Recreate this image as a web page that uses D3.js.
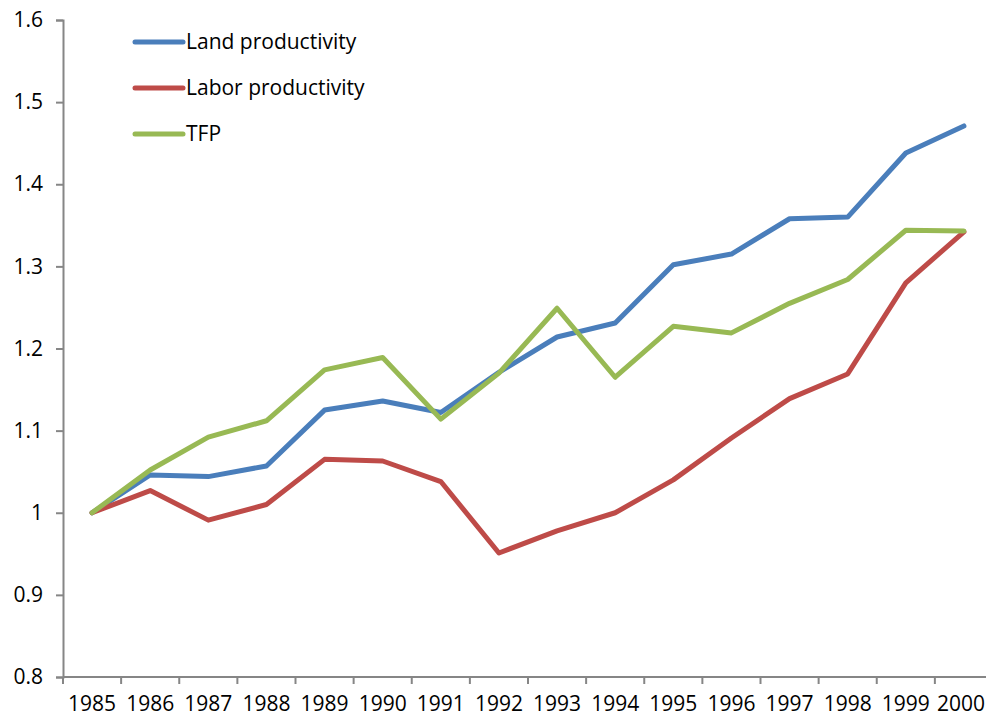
<!DOCTYPE html>
<html>
<head>
<meta charset="utf-8">
<script src="https://cdn.jsdelivr.net/npm/d3@7"></script>
<style>
  body { margin: 0; background: #fff; }
  svg text { font-family: "Open Sans", "Liberation Sans", sans-serif; fill: #000; }
</style>
</head>
<body>
<div id="chart"></div>
<script>
// data
const years = ['1985','1986','1987','1988','1989','1990','1991','1992','1993','1994','1995','1996','1997','1998','1999','2000'];
const landProductivity = [1.0, 1.046, 1.044, 1.057, 1.125, 1.136, 1.122, 1.171, 1.214, 1.231, 1.302, 1.315, 1.358, 1.360, 1.438, 1.471];
const laborProductivity = [1.0, 1.027, 0.991, 1.010, 1.065, 1.063, 1.038, 0.951, 0.978, 1.0, 1.040, 1.091, 1.139, 1.169, 1.280, 1.342];
const tfp = [1.0, 1.052, 1.092, 1.112, 1.174, 1.189, 1.114, 1.170, 1.249, 1.165, 1.227, 1.219, 1.255, 1.284, 1.344, 1.343];
const yTicks = [0.8, 0.9, 1, 1.1, 1.2, 1.3, 1.4, 1.5, 1.6];

const series = [
  {name: 'Land productivity', values: landProductivity, color: '#4a7ebb'},
  {name: 'Labor productivity', values: laborProductivity, color: '#be4b48'},
  {name: 'TFP', values: tfp, color: '#98b954'}
];

const width = 986, height = 717;
const margin = {top: 20, right: -7, bottom: 40, left: 63};

const svg = d3.select('#chart').append('svg')
  .attr('width', width)
  .attr('height', height);

const x = d3.scaleBand()
  .domain(years)
  .range([margin.left, width - margin.right]);

const y = d3.scaleLinear()
  .domain([0.8, 1.6])
  .range([height - margin.bottom, margin.top]);

const axisColor = '#868686';

// y axis
const yAxis = svg.append('g')
  .attr('transform', `translate(${margin.left},0)`)
  .call(d3.axisLeft(y).tickValues(yTicks).tickSize(7).tickPadding(13).tickFormat(d3.format('')));
yAxis.select('.domain').attr('stroke', axisColor).attr('stroke-width', 2);
yAxis.selectAll('.tick line').attr('stroke', axisColor).attr('stroke-width', 2);
yAxis.selectAll('.tick text').attr('font-size', 21).attr('fill', '#000');

// x axis: ticks sit between categories
const xAxisG = svg.append('g')
  .attr('transform', `translate(0,${y(0.8)})`);
xAxisG.append('line')
  .attr('x1', margin.left).attr('x2', width)
  .attr('stroke', axisColor).attr('stroke-width', 2);
const bounds = years.map(d => x(d)).concat([x(years[years.length - 1]) + x.bandwidth()]);
xAxisG.selectAll('.xt')
  .data(bounds)
  .enter().append('line')
  .attr('x1', d => d).attr('x2', d => d)
  .attr('y1', 0).attr('y2', 7)
  .attr('stroke', axisColor).attr('stroke-width', 2);
const xLabels = xAxisG.selectAll('.xl')
  .data(years)
  .enter().append('text')
  .attr('x', d => x(d) + x.bandwidth() / 2)
  .attr('y', 34)
  .attr('text-anchor', 'middle')
  .attr('font-size', 21)
  .text(d => d);
// keep the last label inside the page
xLabels.each(function() {
  const b = this.getBBox();
  if (b.x + b.width > width - 1) {
    d3.select(this).attr('x', +d3.select(this).attr('x') - (b.x + b.width - (width - 1)));
  }
});

// lines
const line = d3.line()
  .x((d, i) => x(years[i]) + x.bandwidth() / 2)
  .y(d => y(d));

svg.selectAll('.series')
  .data(series)
  .enter().append('path')
  .attr('class', 'series')
  .attr('d', d => line(d.values))
  .attr('fill', 'none')
  .attr('stroke', d => d.color)
  .attr('stroke-width', 5)
  .attr('stroke-linejoin', 'round')
  .attr('stroke-linecap', 'round');

// legend
const legend = svg.append('g').attr('transform', 'translate(135,42)');
const items = legend.selectAll('g')
  .data(series)
  .enter().append('g')
  .attr('transform', (d, i) => `translate(0,${i * 46})`);
items.append('line')
  .attr('x1', 0).attr('x2', 48)
  .attr('stroke', d => d.color)
  .attr('stroke-width', 5)
  .attr('stroke-linecap', 'round');
items.append('text')
  .attr('x', 51)
  .attr('dy', '0.35em')
  .attr('font-size', 21)
  .text(d => d.name);
</script>
</body>
</html>
